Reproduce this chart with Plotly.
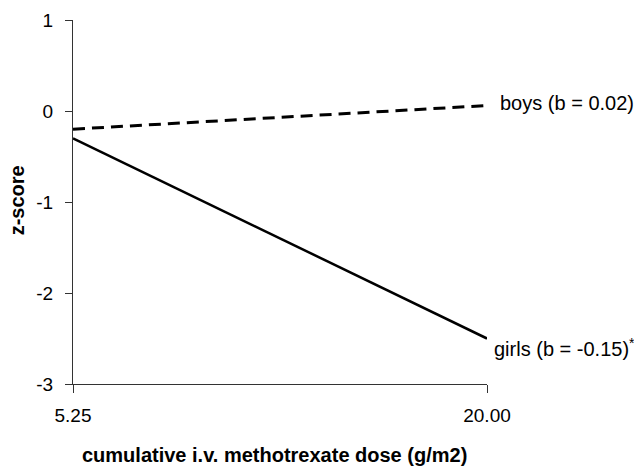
import plotly.graph_objects as go

dose = [5.25, 20.00]
boys_z = [-0.20, 0.06]
girls_z = [-0.30, -2.50]
x_tick_vals = [5.25, 20.00]
x_tick_text = ["5.25", "20.00"]
y_tick_vals = [1, 0, -1, -2, -3]
y_tick_text = ["1", "0", "-1", "-2", "-3"]
boys_label = "boys (b = 0.02)"
girls_label = "girls (b = -0.15)<sup>*</sup>"

FONT = "Liberation Sans, Arial, sans-serif"

fig = go.Figure()
fig.add_trace(go.Scatter(x=dose, y=boys_z, mode="lines",
                         line=dict(color="black", width=3, dash="12px,7px"),
                         showlegend=False))
fig.add_trace(go.Scatter(x=dose, y=girls_z, mode="lines",
                         line=dict(color="black", width=2.5),
                         showlegend=False))

fig.add_annotation(x=dose[1], y=boys_z[1], text=boys_label, showarrow=False,
                   xanchor="left", yanchor="middle", xshift=11, yshift=3,
                   font=dict(family=FONT, size=20, color="black"))
fig.add_annotation(x=dose[1], y=girls_z[1], text=girls_label, showarrow=False,
                   xanchor="left", yanchor="middle", xshift=5, yshift=-9,
                   font=dict(family=FONT, size=20, color="black"))

fig.add_annotation(xref="paper", yref="paper", x=0.486, y=-0.195,
                   text="<b>cumulative i.v. methotrexate dose (g/m2)</b>",
                   showarrow=False, xanchor="center", yanchor="middle",
                   font=dict(family=FONT, size=20, color="black"))
fig.add_annotation(xref="paper", yref="paper", x=-0.135, y=0.505,
                   text="<b>z-score</b>", textangle=-90,
                   showarrow=False, xanchor="center", yanchor="middle",
                   font=dict(family=FONT, size=20, color="black"))

fig.update_layout(
    width=634, height=458,
    margin=dict(l=65, r=155, t=12, b=82),
    paper_bgcolor="white", plot_bgcolor="white",
    font=dict(family=FONT, size=19, color="black"),
)
fig.update_xaxes(range=[5.25, 20.0], tickmode="array", tickvals=x_tick_vals,
                 ticktext=x_tick_text, ticks="outside", ticklen=8, tickwidth=1,
                 tickcolor="#333", showline=True, linecolor="#333", linewidth=1,
                 showgrid=False, zeroline=False, ticklabelstandoff=6,
                 automargin=False)
fig.update_yaxes(range=[-3, 1], tickmode="array", tickvals=y_tick_vals,
                 ticktext=y_tick_text,
                 ticks="outside", ticklen=7, tickwidth=1, tickcolor="#333",
                 showline=True, linecolor="#333", linewidth=1,
                 showgrid=False, zeroline=False, ticklabelstandoff=8,
                 automargin=False)

fig.write_html("out.html")
